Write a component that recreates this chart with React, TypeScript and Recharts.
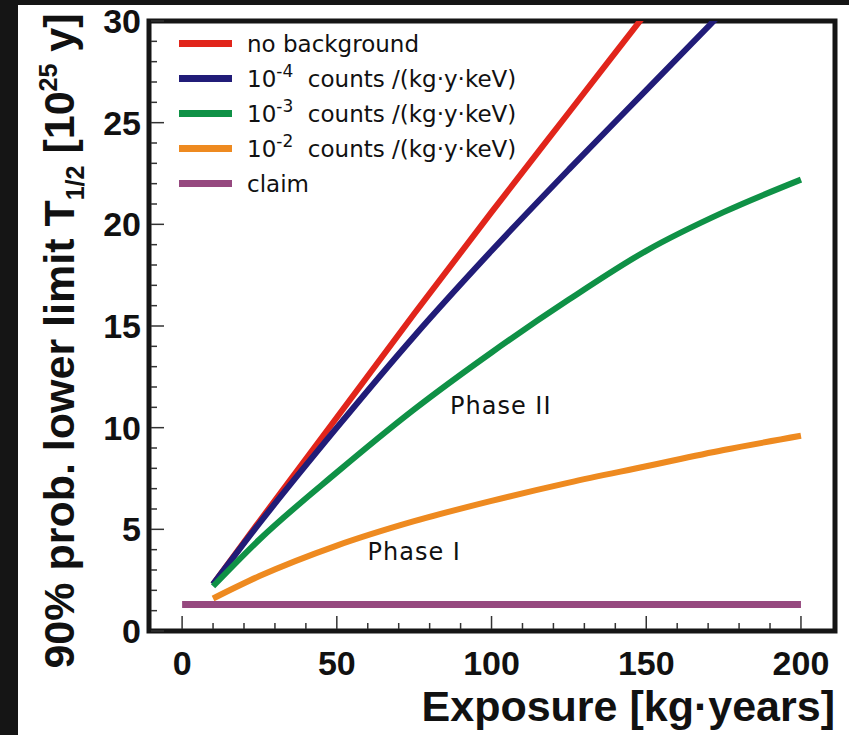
import React from 'react';
import { LineChart, Line, XAxis, YAxis, ReferenceArea, ReferenceDot, Label } from 'recharts';

// exposure points (kg·years) where the sensitivity curves were read
const exposure = [10, 25, 50, 75, 100, 125, 150, 175, 200];

// 90% lower limit on T1/2 in 10^25 y
const noBackground = [2.3, 5.4, 10.5, 15.6, 20.6, 25.5, 30.4];
const bkg1e4 = [2.3, 5.3, 10.0, 14.5, 18.7, 22.7, 26.6, 30.5];
const bkg1e3 = [2.2, 4.5, 7.8, 10.9, 13.7, 16.3, 18.7, 20.6, 22.2];
const bkg1e2 = [1.6, 2.7, 4.2, 5.4, 6.4, 7.3, 8.1, 8.9, 9.6];

const claimX = [0, 200];
const claimValue = 1.3;

const xTicks = [0, 10, 20, 30, 40, 50, 60, 70, 80, 90, 100, 110, 120, 130, 140, 150, 160, 170, 180, 190, 200];
const yTicks = Array.from({ length: 31 }, (_, i) => i);

const phaseLabels = [
  { x: 103, y: 11.1, text: 'Phase II' },
  { x: 75, y: 3.9, text: 'Phase I' },
];

const toPoints = (vals: number[]) => vals.map((v, i) => ({ x: exposure[i], y: v }));

const series = [
  { key: 'nobkg', label: 'no background', exp: '', color: '#e1251b', data: toPoints(noBackground) },
  { key: 'b4', label: 'counts /(kg·y·keV)', exp: '-4', color: '#211c78', data: toPoints(bkg1e4) },
  { key: 'b3', label: 'counts /(kg·y·keV)', exp: '-3', color: '#0f9146', data: toPoints(bkg1e3) },
  { key: 'b2', label: 'counts /(kg·y·keV)', exp: '-2', color: '#ee8a20', data: toPoints(bkg1e2) },
  { key: 'claim', label: 'claim', exp: '', color: '#96497f', data: claimX.map((x) => ({ x, y: claimValue })) },
];

const axisFont = '"Liberation Sans", Arial, sans-serif';
const textFont = '"DejaVu Sans", sans-serif';

const XTick = (props: any) => {
  const { x, y, payload } = props;
  const major = payload.value % 50 === 0;
  return (
    <g>
      <line x1={x} x2={x} y1={y - 2} y2={y - (major ? 15 : 8)} stroke="#333" strokeWidth={1.5} />
      {major && (
        <text x={x} y={y + 44} textAnchor="middle" fontFamily={axisFont} fontWeight="bold" fontSize={34} fill="#111">
          {payload.value}
        </text>
      )}
    </g>
  );
};

const YTick = (props: any) => {
  const { x, y, payload } = props;
  const major = payload.value % 5 === 0;
  return (
    <g>
      <line x1={x + 2} x2={x + (major ? 15 : 8)} y1={y} y2={y} stroke="#333" strokeWidth={1.5} />
      {major && (
        <text x={x - 8} y={y + 12} textAnchor="end" fontFamily={axisFont} fontWeight="bold" fontSize={34} fill="#111">
          {payload.value}
        </text>
      )}
    </g>
  );
};

const LegendBox = () => (
  <div style={{ position: 'absolute', left: 179, top: 26, fontFamily: textFont, fontSize: 23, color: '#111' }}>
    {series.map((s) => (
      <div key={s.key} style={{ display: 'flex', alignItems: 'center', height: 35 }}>
        <div style={{ width: 53, height: 7, background: s.color, marginRight: 15 }} />
        <span style={{ whiteSpace: 'pre' }}>
          {s.exp && (
            <>
              10<sup style={{ fontSize: 17, verticalAlign: 'top', position: 'relative', top: -5 }}>{s.exp}</sup>
              {'  '}
            </>
          )}
          {s.label}
        </span>
      </div>
    ))}
  </div>
);

const YTitle = () => (
  <text
    x={341}
    y={74}
    transform="rotate(-90, 341, 341)"
    fontFamily={axisFont}
    fontWeight="bold"
    fontSize={43}
    fill="#111"
    textAnchor="middle"
  >
    90% prob. lower limit T<tspan fontSize={25} dy={10}>1/2</tspan>
    <tspan dy={-10}> [10</tspan>
    <tspan fontSize={25} dy={-17}>25</tspan>
    <tspan dy={17}> y]</tspan>
  </text>
);

const XTitle = () => (
  <text x={835} y={721} textAnchor="end" fontFamily={axisFont} fontWeight="bold" fontSize={43} fill="#111">
    Exposure [kg·years]
  </text>
);

export default function App() {
  return (
    <div style={{ position: 'absolute', left: 0, top: 0, width: 849, height: 735, background: '#151515', overflow: 'hidden' }}>
      <div style={{ position: 'absolute', left: 18, top: 5, width: 831, height: 730, background: '#fff' }} />
      <div style={{ position: 'absolute', left: 0, top: 0 }}>
        <LineChart width={849} height={735} margin={{ top: 21, right: 14, bottom: 74, left: 89 }}>
          <XAxis
            type="number"
            dataKey="x"
            domain={[-10.7, 211]}
            allowDataOverflow
            ticks={xTicks}
            interval={0}
            tick={<XTick />}
            tickSize={0}
            tickMargin={0}
            axisLine={false}
            tickLine={false}
            height={30}
          >
            <Label content={<XTitle />} />
          </XAxis>
          <YAxis
            type="number"
            dataKey="y"
            domain={[0, 30]}
            allowDataOverflow
            ticks={yTicks}
            interval={0}
            tick={<YTick />}
            tickSize={0}
            tickMargin={0}
            axisLine={false}
            tickLine={false}
            width={60}
          >
            <Label content={<YTitle />} />
          </YAxis>
          {series.map((s) => (
            <Line
              key={s.key}
              data={s.data}
              dataKey="y"
              type="monotone"
              stroke={s.color}
              strokeWidth={s.key === 'claim' ? 7 : 6}
              dot={false}
              activeDot={false}
              isAnimationActive={false}
            />
          ))}
          {phaseLabels.map((p) => (
            <ReferenceDot
              key={p.text}
              x={p.x}
              y={p.y}
              r={0}
              stroke="none"
              label={{ value: p.text, position: 'center', fontFamily: textFont, fontSize: 24, fill: '#111', letterSpacing: 1 }}
            />
          ))}
          <ReferenceArea x1={-10.7} x2={211} y1={0} y2={30} fill="none" stroke="#151515" strokeWidth={5} ifOverflow="visible" />
        </LineChart>
      </div>
      <LegendBox />
    </div>
  );
}
